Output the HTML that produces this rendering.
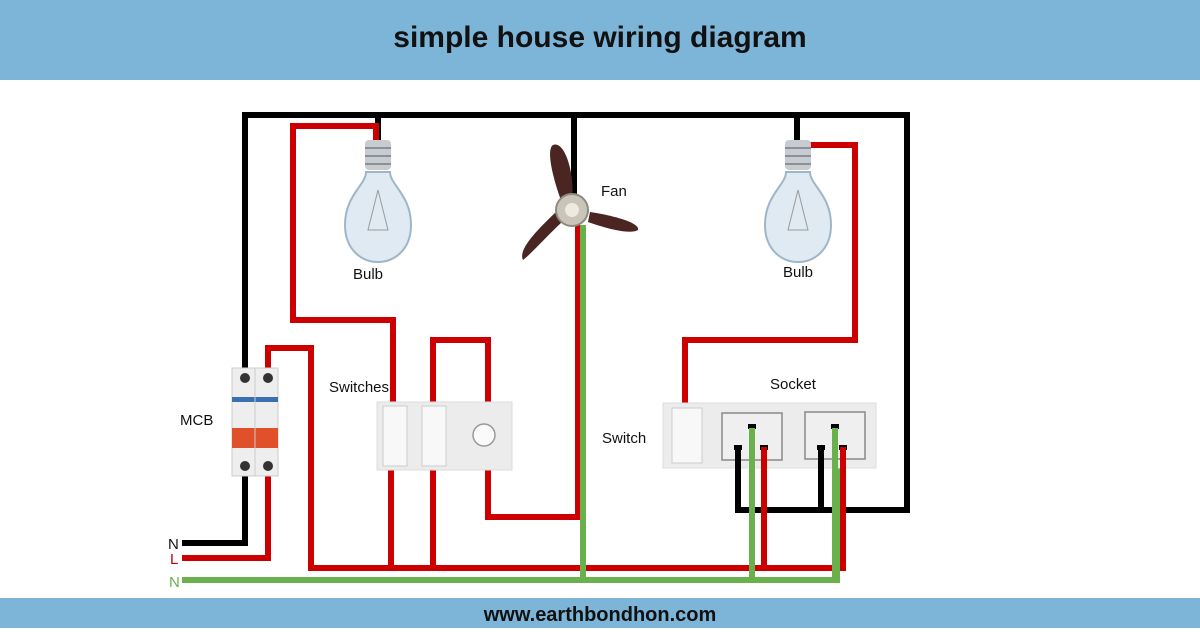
<!DOCTYPE html>
<html><head><meta charset="utf-8"><style>
body{margin:0;width:1200px;height:628px;overflow:hidden;background:#fff;font-family:"Liberation Sans",sans-serif}
</style></head><body>
<svg width="1200" height="628" viewBox="0 0 1200 628" xmlns="http://www.w3.org/2000/svg" font-family="Liberation Sans, sans-serif">
<rect x="0" y="0" width="1200" height="80" fill="#7db5d8"/>
<text x="600" y="47" text-anchor="middle" font-size="30" font-weight="bold" fill="#111">simple house wiring diagram</text>
<rect x="0" y="598" width="1200" height="30" fill="#7db5d8"/>
<text x="600" y="621" text-anchor="middle" font-size="20" font-weight="bold" fill="#111">www.earthbondhon.com</text>

<g fill="none" stroke-linejoin="miter" stroke-width="6">
<path stroke="#000" d="M245,370 V115 H907 V510 H738 V447 M821,447 V510 M378,115 V145 M574,115 V200 M797,115 V145 M245,470 V543 H182"/>
<path stroke="#c00" d="M376,145 V126 H293 V320 H393 V405 M433,405 V340 H488 V405 M391,465 V568 M433,465 V568 M488,465 V517 H578 V225 M268,370 V348 H311 V568 H843 V447 M764,447 V568 M268,470 V558 H182 M800,145 H855 V340 H685 V405"/>
<path stroke="#6ab04c" d="M182,580 H837 V428 M752,428 V580 M583,225 V580"/>
</g>

<g id="b1">
<rect x="365" y="140" width="26" height="30" rx="4" fill="#c8ccd0"/>
<path d="M365,148 H391 M365,156 H391 M365,164 H391" stroke="#8a9096" stroke-width="2"/>
<path d="M366,172 C366,185 345,195 345,225 C345,250 362,262 378,262 C394,262 411,250 411,225 C411,195 390,185 390,172 Z" fill="#dfeaf2" stroke="#9fb6c8" stroke-width="2"/>
<path d="M378,190 L368,230 H388 Z" fill="none" stroke="#999" stroke-width="1"/>
</g>
<use href="#b1" transform="translate(420,0)"/>

<g fill="#4a2522">
<path d="M553,145 C565,140 575,175 572,200 L562,203 C555,185 545,150 553,145 Z"/>
<path d="M590,212 C610,215 640,222 638,230 C630,235 605,228 588,222 Z"/>
<path d="M562,222 C548,235 530,255 523,260 C518,250 535,232 556,212 Z"/>
</g>
<circle cx="572" cy="210" r="16" fill="#c9c5bb" stroke="#8d8a80" stroke-width="2"/>
<circle cx="572" cy="210" r="7" fill="#eeeae0"/>

<rect x="232" y="368" width="46" height="108" fill="#eee" stroke="#ccc"/>
<rect x="232" y="397" width="46" height="5" fill="#3a6fb0"/>
<rect x="232" y="428" width="46" height="20" fill="#e0502a"/>
<circle cx="245" cy="378" r="5" fill="#333"/><circle cx="268" cy="378" r="5" fill="#333"/>
<circle cx="245" cy="466" r="5" fill="#333"/><circle cx="268" cy="466" r="5" fill="#333"/>
<line x1="255" y1="368" x2="255" y2="476" stroke="#ccc"/>

<rect x="377" y="402" width="135" height="68" fill="#ececec" stroke="#ddd"/>
<rect x="383" y="406" width="24" height="60" fill="#f8f8f8" stroke="#ccc"/>
<rect x="422" y="406" width="24" height="60" fill="#f8f8f8" stroke="#ccc"/>
<circle cx="484" cy="435" r="11" fill="#fafafa" stroke="#999" stroke-width="1.5"/>

<rect x="663" y="403" width="213" height="65" fill="#ececec" stroke="#ddd"/>
<rect x="672" y="408" width="30" height="55" fill="#f8f8f8" stroke="#ccc"/>
<rect x="722" y="413" width="60" height="47" fill="#efefef" stroke="#888" stroke-width="1.5"/>
<rect x="805" y="412" width="60" height="47" fill="#efefef" stroke="#888" stroke-width="1.5"/>
<g fill="#000"><rect x="748" y="424" width="8" height="5"/><rect x="734" y="445" width="8" height="5"/><rect x="760" y="445" width="8" height="5"/>
<rect x="831" y="424" width="8" height="5"/><rect x="817" y="445" width="8" height="5"/><rect x="839" y="445" width="8" height="5"/></g>
<path d="M738,447 V510 M821,447 V510" stroke="#000" stroke-width="6"/>
<path d="M764,447 V568 M843,447 V568" stroke="#c00" stroke-width="6"/>
<path d="M752,428 V580 M835,428 V580" stroke="#6ab04c" stroke-width="6"/>

<g font-size="15" fill="#111">
<text x="353" y="279">Bulb</text>
<text x="601" y="196">Fan</text>
<text x="783" y="277">Bulb</text>
<text x="329" y="392">Switches</text>
<text x="180" y="425">MCB</text>
<text x="770" y="389">Socket</text>
<text x="602" y="443">Switch</text>
<text x="168" y="549">N</text>
<text x="170" y="564" fill="#c00">L</text>
<text x="169" y="587" fill="#6ab04c">N</text>
</g>
</svg>
</body></html>
